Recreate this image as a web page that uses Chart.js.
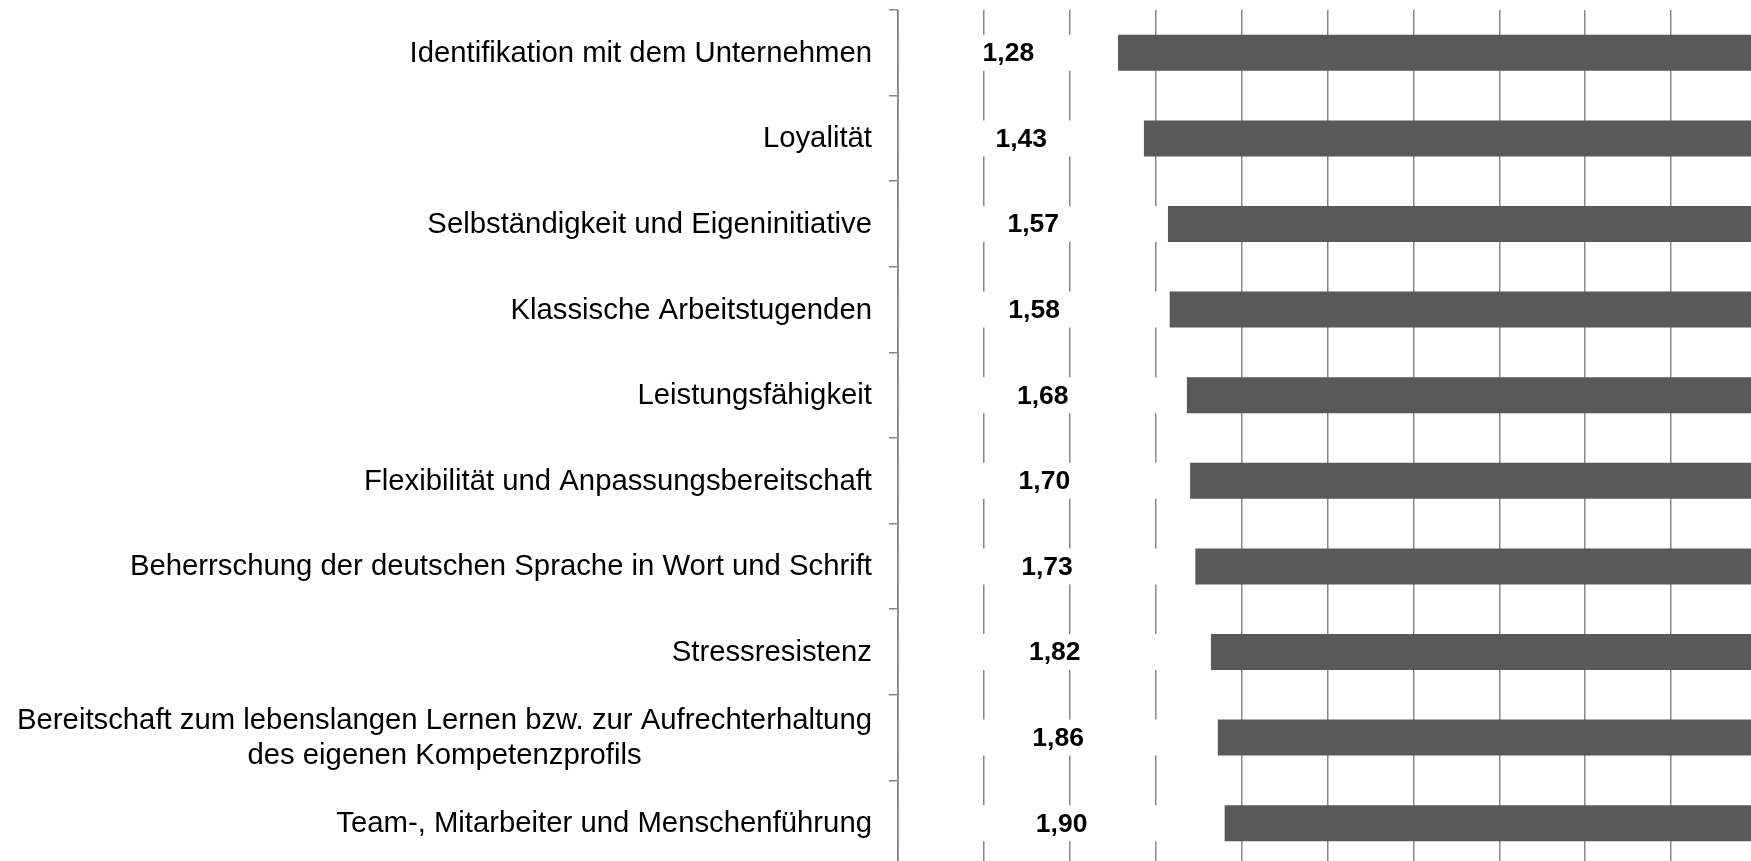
<!DOCTYPE html>
<html lang="de">
<head>
<meta charset="utf-8">
<title>Kompetenzen</title>
<script src="https://cdn.jsdelivr.net/npm/chart.js@4/dist/chart.umd.min.js"></script>
<style>
  html, body { margin: 0; padding: 0; background: #fff; overflow: hidden; }
  #wrap { position: relative; width: 1757px; height: 866px; }
</style>
</head>
<body>
<div id="wrap"><canvas id="chart"></canvas></div>
<script>
// ── Data ──────────────────────────────────────────────────────────────
const categories = [
  ['Identifikation mit dem Unternehmen'],
  ['Loyalität'],
  ['Selbständigkeit und Eigeninitiative'],
  ['Klassische Arbeitstugenden'],
  ['Leistungsfähigkeit'],
  ['Flexibilität und Anpassungsbereitschaft'],
  ['Beherrschung der deutschen Sprache in Wort und Schrift'],
  ['Stressresistenz'],
  ['Bereitschaft zum lebenslangen Lernen bzw. zur Aufrechterhaltung', 'des eigenen Kompetenzprofils'],
  ['Team-, Mitarbeiter und Menschenführung'],
];
const means = [1.28, 1.43, 1.57, 1.58, 1.68, 1.70, 1.73, 1.82, 1.86, 1.90];
const scaleMin = 0;
const scaleMax = 5;
const gridStep = 0.5;

const BAR  = '#595959';
const GRID = '#878787';
const FONT = '"Liberation Sans", Arial, sans-serif';

// ── Plugins ───────────────────────────────────────────────────────────
// axis line redrawn over the white segments, then category + value labels
const overlay = {
  id: 'overlay',
  afterDatasetsDraw(chart) {
    const { ctx, chartArea, scales } = chart;
    const y = scales.y;

    ctx.save();
    ctx.strokeStyle = GRID;
    ctx.lineWidth = 1.5;
    ctx.beginPath();
    ctx.moveTo(chartArea.left, chartArea.top);
    ctx.lineTo(chartArea.left, chartArea.bottom);
    ctx.stroke();

    // category labels, right-aligned block, lines centred inside the block
    ctx.fillStyle = '#000';
    ctx.font = `29.3px ${FONT}`;
    ctx.textAlign = 'center';
    ctx.textBaseline = 'middle';
    const right = chartArea.left - 26;
    const lh = 35;
    categories.forEach((lines, i) => {
      const cy = y.getPixelForValue(i);
      const w = Math.max(...lines.map(l => ctx.measureText(l).width));
      const cx = right - w / 2;
      lines.forEach((l, k) => {
        ctx.fillText(l, cx, cy + 1 + (k - (lines.length - 1) / 2) * lh);
      });
    });

    // value labels in the middle of the white segment
    ctx.font = `bold 26.5px ${FONT}`;
    const meta = chart.getDatasetMeta(0);
    meta.data.forEach((bar, i) => {
      const cx = (bar.x + bar.base) / 2;
      ctx.fillText(means[i].toFixed(2).replace('.', ','), cx, bar.y + 1);
    });
    ctx.restore();
  }
};

// ── Chart ─────────────────────────────────────────────────────────────
new Chart(document.getElementById('chart'), {
  type: 'bar',
  data: {
    labels: categories,
    datasets: [
      {
        label: 'Mittelwert',
        data: means.map(v => [scaleMin, v]),
        backgroundColor: '#ffffff',
        borderWidth: 0,
        barPercentage: 0.42,
        categoryPercentage: 1,
        grouped: false,
      },
      {
        label: 'Rest',
        data: means.map(v => [v, scaleMax]),
        backgroundColor: BAR,
        borderWidth: 0,
        barPercentage: 0.42,
        categoryPercentage: 1,
        grouped: false,
      },
    ],
  },
  options: {
    indexAxis: 'y',
    responsive: true,
    maintainAspectRatio: false,
    animation: false,
    layout: { padding: { top: 10, right: 0, bottom: 0, left: 0 } },
    plugins: {
      legend: { display: false },
      tooltip: { enabled: false },
    },
    scales: {
      x: {
        min: scaleMin,
        max: scaleMax,
        ticks: { display: false, stepSize: gridStep },
        grid: { color: GRID, lineWidth: 1.5, drawTicks: false },
        border: { display: false },
        afterFit(scale) { scale.height = 0; },
      },
      y: {
        offset: true,
        ticks: { display: false },
        grid: {
          offset: true,
          drawOnChartArea: false,
          drawTicks: true,
          tickLength: 9,
          color: GRID,
          lineWidth: 1.5,
        },
        border: { display: false },
        afterFit(scale) { scale.width = 898; },
      },
    },
  },
  plugins: [overlay],
});
</script>
</body>
</html>
